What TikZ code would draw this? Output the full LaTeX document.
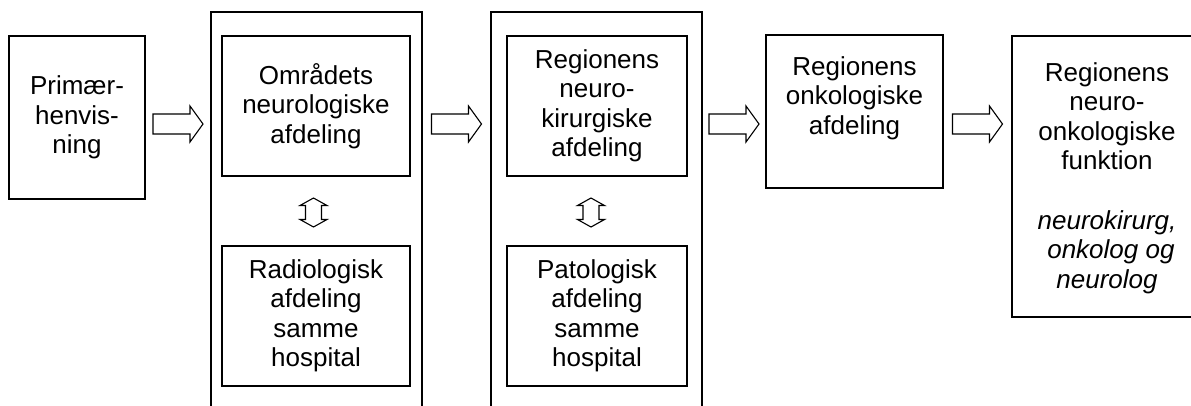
\documentclass[tikz,border=0pt]{standalone}
\usepackage{fontspec}
\setmainfont{Liberation Sans}
\usetikzlibrary{calc}
\begin{document}
\begin{tikzpicture}[x=1pt,y=-1pt,
  box/.style={draw,line width=1.2pt,rectangle,inner sep=0pt,align=center,
    font=\fontsize{26}{29.5}\selectfont},
  txt/.style={inner sep=0pt,align=center,font=\fontsize{26}{29.5}\selectfont},
  blockarrow/.pic={\draw[line width=1.1pt,line join=miter]
    (-25,-10) -- (12,-10) -- (12,-18) -- (25,0) -- (12,18) -- (12,10) -- (-25,10) -- cycle;},
  updown/.pic={\draw[line width=1.1pt,line join=miter]
    (0,-14.5) -- (13.5,-7) -- (8,-7) -- (8,7) -- (13.5,7) -- (0,14.5)
    -- (-13.5,7) -- (-8,7) -- (-8,-7) -- (-13.5,-7) -- cycle;}]
\useasboundingbox (0,0) rectangle (1191,405);
\clip (0,0) rectangle (1191,405);
\coordinate (ay) at (0,124);
\node[box,minimum width=136pt,minimum height=163pt] (p) at (77,117.5)
  {Primær-\\henvis-\\ning};
\node[box,minimum width=211pt,minimum height=418pt] (o1) at (316.5,221) {};
\node[box,minimum width=188pt,minimum height=140pt] (a1) at (316,106)
  {Områdets\\neurologiske\\afdeling};
\node[box,minimum width=188pt,minimum height=140pt] (a2) at (316,316)
  {Radiologisk\\afdeling\\samme\\hospital};
\node[box,minimum width=211pt,minimum height=418pt] (o2) at (596.5,221) {};
\node[box,minimum width=180pt,minimum height=140pt] (b1) at (597,106)
  {Regionens\\neuro-\\kirurgiske\\afdeling};
\node[box,minimum width=180pt,minimum height=140pt] (b2) at (597,316)
  {Patologisk\\afdeling\\samme\\hospital};
\node[box,minimum width=177pt,minimum height=153pt] (c) at (854.5,111.5) {};
\node[txt] (ct) at (854.5,98) {Regionens\\onkologiske\\afdeling};
\node[box,minimum width=190pt,minimum height=281pt] (d) at (1107,176.5) {};
\node[txt] (dt) at (1107,116) {Regionens\\neuro-\\onkologiske\\funktion};
\node[txt] (di) at (1107,252) {\textit{neurokirurg,}\\\hspace{0.3em}\textit{onkolog og}\\\textit{neurolog}};
\coordinate (m1) at ($(p.east)!0.5!(o1.west)$);
\coordinate (m2) at ($(o1.east)!0.5!(o2.west)$);
\coordinate (m3) at ($(o2.east)!0.5!(c.west)$);
\coordinate (m4) at ($(c.east)!0.5!(d.west)$);
\pic at (m1 |- ay) {blockarrow};
\pic at (m2 |- ay) {blockarrow};
\pic at (m3 |- ay) {blockarrow};
\pic at (m4 |- ay) {blockarrow};
\coordinate (u1) at ($(a1.south)!0.5!(a2.north)$);
\coordinate (u2) at ($(b1.south)!0.5!(b2.north)$);
\pic at ($(u1)+(-2.5,1.5)$) {updown};
\pic at ($(u2)+(-6,1.5)$) {updown};
\end{tikzpicture}
\end{document}
